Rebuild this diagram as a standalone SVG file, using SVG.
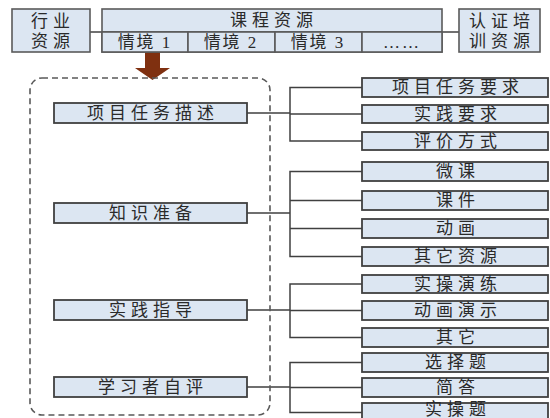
<svg xmlns="http://www.w3.org/2000/svg" width="550" height="418" viewBox="0 0 550 418">
<style>
.bx{fill:#dce6f2;stroke:#404040;stroke-width:1.8}
.tb{fill:#dce6f2;stroke:#5a5a5a;stroke-width:1.6}
.t{font-family:"Liberation Serif","Noto Sans CJK SC",serif;font-size:17px;fill:#2a2a2a;text-anchor:middle;dominant-baseline:central;letter-spacing:5px}
.t2{font-family:"Liberation Serif","Noto Sans CJK SC",serif;font-size:17px;fill:#2a2a2a;text-anchor:middle;dominant-baseline:central;letter-spacing:2px}
.ln{fill:none;stroke:#404040;stroke-width:1.5}
</style>
<rect width="550" height="418" fill="#fff"/>
<g id="connectors">
<line class="ln" x1="90" y1="32" x2="102" y2="32"/>
<line class="ln" x1="442" y1="32" x2="459" y2="32"/>
<path class="ln" d="M247,113H290M362,87.5H290V141H362M290,114H362"/>
<path class="ln" d="M247,213H290M362,171.5H290V256.5H362M290,200.5H362M290,228.5H362"/>
<path class="ln" d="M247,310H290M362,284H290V337.5H362M290,310.5H362"/>
<path class="ln" d="M247,387H290M362,362.5H290V412.5H362M290,387.5H362"/>
<polygon points="145,52 160,52 160,68 170,68 152.5,80 135,68 145,68" fill="#7f3010"/>
</g>
<rect id="container" x="30" y="78" width="240" height="337" rx="12" fill="none" stroke="#595959" stroke-width="1.6" stroke-dasharray="6,4"/>
<g id="n-hangye"><rect class="tb" x="12" y="9" width="78" height="43"/><text class="t" x="53" y="21">行业</text><text class="t" x="53" y="41">资源</text></g>
<g id="n-kecheng"><rect class="tb" x="102" y="9" width="340" height="43"/><line class="ln" x1="102" y1="32" x2="442" y2="32"/><text class="t" x="274" y="20">课程资源</text></g>
<g id="n-qj1"><rect class="tb" x="102" y="32" width="86" height="20"/><text class="t2" x="145" y="42">情境 1</text></g>
<g id="n-qj2"><rect class="tb" x="188" y="32" width="87" height="20"/><text class="t2" x="231" y="42">情境 2</text></g>
<g id="n-qj3"><rect class="tb" x="275" y="32" width="87" height="20"/><text class="t2" x="318" y="42">情境 3</text></g>
<g id="n-more"><rect class="tb" x="362" y="32" width="80" height="20"/><text class="t2" x="402" y="42">……</text></g>
<g id="n-renzheng"><rect class="tb" x="459" y="9" width="81" height="43"/><text class="t" x="502" y="21">认证培</text><text class="t" x="502" y="41">训资源</text></g>
<g id="n-l1"><rect class="bx" x="54" y="103" width="193" height="20"/><text class="t" x="153" y="113">项目任务描述</text></g>
<g id="n-l2"><rect class="bx" x="54" y="203" width="193" height="20"/><text class="t" x="153" y="213">知识准备</text></g>
<g id="n-l3"><rect class="bx" x="54" y="300" width="193" height="20"/><text class="t" x="153" y="310">实践指导</text></g>
<g id="n-l4"><rect class="bx" x="54" y="377" width="193" height="20"/><text class="t" x="153" y="387">学习者自评</text></g>
<g id="n-r1"><rect class="bx" x="362" y="78" width="186" height="19"/><text class="t" x="458" y="87.5">项目任务要求</text></g>
<g id="n-r2"><rect class="bx" x="362" y="105" width="186" height="18"/><text class="t" x="458" y="114">实践要求</text></g>
<g id="n-r3"><rect class="bx" x="362" y="132" width="186" height="18"/><text class="t" x="458" y="141">评价方式</text></g>
<g id="n-r4"><rect class="bx" x="362" y="162" width="186" height="19"/><text class="t" x="458" y="171.5">微课</text></g>
<g id="n-r5"><rect class="bx" x="362" y="191" width="186" height="19"/><text class="t" x="458" y="200.5">课件</text></g>
<g id="n-r6"><rect class="bx" x="362" y="219" width="186" height="19"/><text class="t" x="458" y="228.5">动画</text></g>
<g id="n-r7"><rect class="bx" x="362" y="247" width="186" height="19"/><text class="t" x="458" y="256.5">其它资源</text></g>
<g id="n-r8"><rect class="bx" x="362" y="275" width="186" height="18"/><text class="t" x="458" y="284">实操演练</text></g>
<g id="n-r9"><rect class="bx" x="362" y="301" width="186" height="19"/><text class="t" x="458" y="310.5">动画演示</text></g>
<g id="n-r10"><rect class="bx" x="362" y="328" width="186" height="19"/><text class="t" x="458" y="337.5">其它</text></g>
<g id="n-r11"><rect class="bx" x="362" y="353" width="186" height="19"/><text class="t" x="458" y="362.5">选择题</text></g>
<g id="n-r12"><rect class="bx" x="362" y="378" width="186" height="19"/><text class="t" x="458" y="387.5">简答</text></g>
<g id="n-r13"><rect class="bx" x="362" y="403" width="186" height="19"/><text class="t" x="458" y="409">实操题</text></g>
</svg>
